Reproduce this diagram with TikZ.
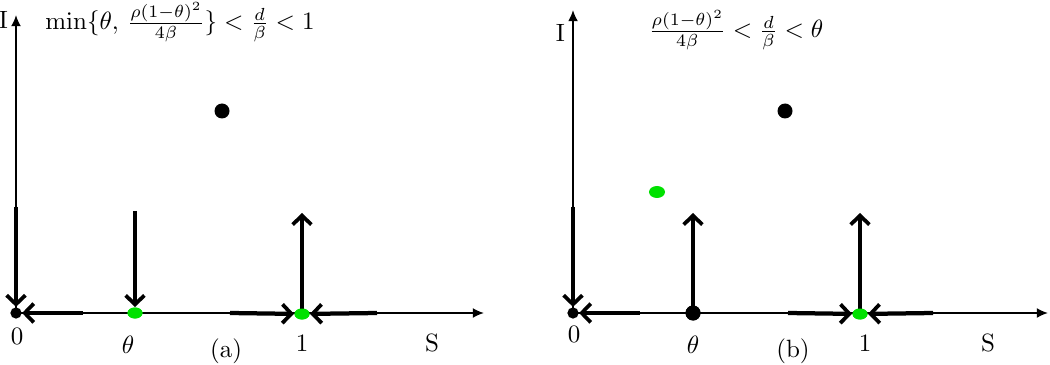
\documentclass[tikz,border=0pt]{standalone}
\usepackage{amsmath}
\usetikzlibrary{positioning, calc, arrows.meta, shapes.geometric}
\definecolor{ptgreen}{RGB}{0,225,0}

\begin{document}
\begin{tikzpicture}[
  x=0.4pt, y=-0.4pt,
  >={Latex[length=4.5pt, width=4pt]},
  axis/.style  = {draw, line width=0.7pt, ->},
  flow/.style  = {draw, line width=1.7pt, -{Straight Barb[length=3.6pt, width=7.5pt, line width=1.5pt]}},
  blackpt/.style = {ellipse, fill=black, inner sep=0pt, minimum width=6pt, minimum height=6pt},
  greenpt/.style = {ellipse, fill=ptgreen, inner sep=0pt, minimum width=6pt, minimum height=4.4pt},
  lbl/.style   = {inner sep=0pt},
]
  \useasboundingbox (0,0) rectangle (1050,365);

  % panel (a)
  \coordinate (aO)   at (16,313);
  \coordinate (aItop) at (16,15);
  \coordinate (aSend) at (484,313);
  \draw[axis] (aO) -- (aItop);
  \draw[axis] (aO) -- (aSend);
  \node[lbl, left=3pt of aItop, yshift=-2pt] (aI) {I};
  \node[lbl] (aS) at (432,343) {S};

  \node[blackpt, minimum width=4.5pt, minimum height=4.5pt] (a0) at (aO) {};
  \node[greenpt] (ath) at (135,313) {};
  \node[greenpt] (a1)  at (302,314) {};
  \node[blackpt] (aint) at (222,111) {};

  \coordinate (aV0)  at (16,207);
  \coordinate (aH0)  at (83,313);
  \coordinate (aVth) at (135,211);
  \coordinate (aHl)  at (230,313);
  \coordinate (aV1)  at (302,213);
  \coordinate (aHr)  at (377,313);
  \draw[flow] (aV0)  -- (a0);
  \draw[flow] (aH0)  -- (a0);
  \draw[flow] (aVth) -- (ath);
  \draw[flow] (aHl)  -- (a1);
  \draw[flow] (a1.center) -- (aV1);
  \draw[flow] (aHr)  -- (a1);
  \node[greenpt] at (ath) {};
  \node[greenpt] at (a1) {};

  \node[lbl] (a0l)  at (17,336)  {0};
  \node[lbl] (athl) at (128,345) {$\theta$};
  \node[lbl] (a1l)  at (302,343) {1};
  \node[lbl] (acap) at (226,351) {(a)};
  \node (atitle) at (180,22)
    {$\min\{\theta,\, \frac{\rho(1-\theta)^2}{4\beta}\} < \frac{d}{\beta} < 1$};

  % panel (b)
  \coordinate (bO)   at (573,313);
  \coordinate (bItop) at (573,10);
  \coordinate (bSend) at (1048,313);
  \draw[axis] (bO) -- (bItop);
  \draw[axis] (bO) -- (bSend);
  \node[lbl, left=3pt of bItop, yshift=-9pt] (bI) {I};
  \node[lbl] (bS) at (988,343) {S};

  \node[blackpt, minimum width=4.5pt, minimum height=4.5pt] (b0) at (bO) {};
  \node[blackpt] (bth) at (693,313) {};
  \node[greenpt] (b1)  at (860,314) {};
  \node[blackpt] (bint) at (785,111) {};
  \node[greenpt, minimum width=6.4pt, minimum height=4.8pt] (bmid) at (657,192) {};

  \coordinate (bV0)  at (573,207);
  \coordinate (bH0)  at (640,313);
  \coordinate (bVth) at (693,213);
  \coordinate (bHl)  at (788,313);
  \coordinate (bV1)  at (860,213);
  \coordinate (bHr)  at (933,313);
  \draw[flow] (bV0)  -- (b0);
  \draw[flow] (bH0)  -- (b0);
  \draw[flow] (bth.center) -- (bVth);
  \draw[flow] (bHl)  -- (b1);
  \draw[flow] (b1.center) -- (bV1);
  \draw[flow] (bHr)  -- (b1);
  \node[blackpt] at (bth) {};
  \node[greenpt] at (b1) {};

  \node[lbl] (b0l)  at (574,334) {0};
  \node[lbl] (bthl) at (693,345) {$\theta$};
  \node[lbl] (b1l)  at (865,343) {1};
  \node[lbl] (bcap) at (793,351) {(b)};
  \node (btitle) at (736,30)
    {$\frac{\rho(1-\theta)^2}{4\beta} < \frac{d}{\beta} < \theta$};
\end{tikzpicture}
\end{document}
